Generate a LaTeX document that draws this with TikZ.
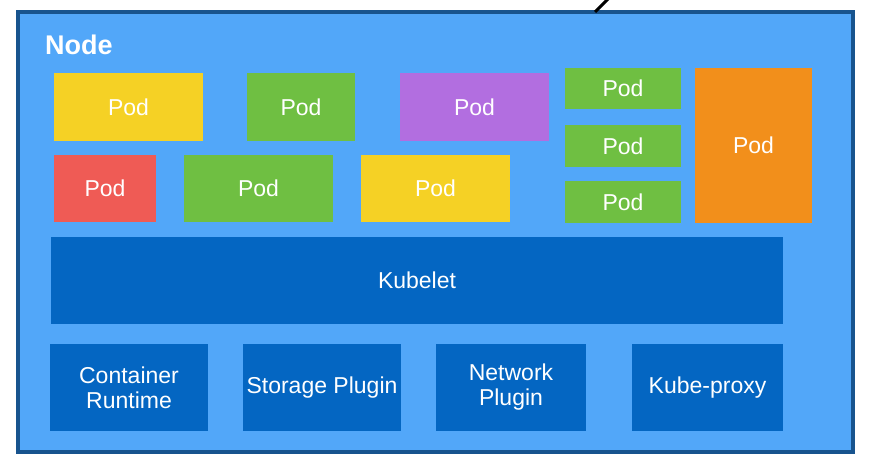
\documentclass[tikz,border=0pt]{standalone}
\usepackage{fontspec}
\setmainfont{Liberation Sans}
\definecolor{nodefill}{HTML}{52A7F9}
\definecolor{nodeborder}{HTML}{18548E}
\definecolor{darkbox}{HTML}{0466C2}
\definecolor{podyellow}{HTML}{F5D125}
\definecolor{podgreen}{HTML}{6FBF42}
\definecolor{podpurple}{HTML}{B26EE0}
\definecolor{podred}{HTML}{EF5B55}
\definecolor{podorange}{HTML}{F28F1B}
\begin{document}
\begin{tikzpicture}[x=1pt,y=-1pt,
  blk/.style={anchor=north west, inner sep=0pt, outer sep=0pt, text=white,
    font=\fontsize{23}{25}\selectfont, align=center},
  pod/.style={blk}]
\useasboundingbox (0,0) rectangle (869,466);
\fill[white] (0,0) rectangle (869,466);
% outer node box
\node[anchor=north west, draw=nodeborder, fill=nodefill, line width=4pt,
  minimum width=835pt, minimum height=440pt, inner sep=0pt, outer sep=0pt] (knode) at (18,12) {};
\node[anchor=base west, text=white, font=\fontsize{27}{30}\bfseries\selectfont, inner sep=0pt] (nlabel) at (45,54) {Node};
% pods row 1
\node[pod, fill=podyellow, minimum width=149pt, minimum height=68pt] (p1) at (54,73) {Pod};
\node[pod, fill=podgreen, minimum width=108pt, minimum height=68pt] (p2) at (247,73) {Pod};
\node[pod, fill=podpurple, minimum width=149pt, minimum height=68pt] (p3) at (400,73) {Pod};
% pods row 2
\node[pod, fill=podred, minimum width=102pt, minimum height=67pt] (p4) at (54,155) {Pod};
\node[pod, fill=podgreen, minimum width=149pt, minimum height=67pt] (p5) at (184,155) {Pod};
\node[pod, fill=podyellow, minimum width=149pt, minimum height=67pt] (p6) at (361,155) {Pod};
% stacked pods
\node[pod, fill=podgreen, minimum width=116pt, minimum height=41pt] (p7) at (565,68) {Pod};
\node[pod, fill=podgreen, minimum width=116pt, minimum height=42pt] (p8) at (565,125) {Pod};
\node[pod, fill=podgreen, minimum width=116pt, minimum height=42pt] (p9) at (565,181) {Pod};
\node[pod, fill=podorange, minimum width=117pt, minimum height=155pt] (p10) at (695,68) {Pod};
% kubelet
\node[blk, fill=darkbox, minimum width=732pt, minimum height=87pt] (kubelet) at (51,237) {Kubelet};
% bottom row
\node[blk, fill=darkbox, minimum width=158pt, minimum height=87pt] (cr) at (50,344) {Container\\Runtime};
\node[blk, fill=darkbox, minimum width=158pt, minimum height=87pt] (sp) at (243,344) {Storage Plugin};
\node[blk, fill=darkbox, minimum width=150pt, minimum height=87pt] (np) at (436,344) {Network\\Plugin};
\node[blk, fill=darkbox, minimum width=151pt, minimum height=87pt] (kp) at (632,344) {Kube-proxy};
% connector leaving the top
\coordinate (lt) at (595,12);
\coordinate (up) at (611,-4);
\draw[line width=3pt, black] (lt) -- (up);
\end{tikzpicture}
\end{document}
